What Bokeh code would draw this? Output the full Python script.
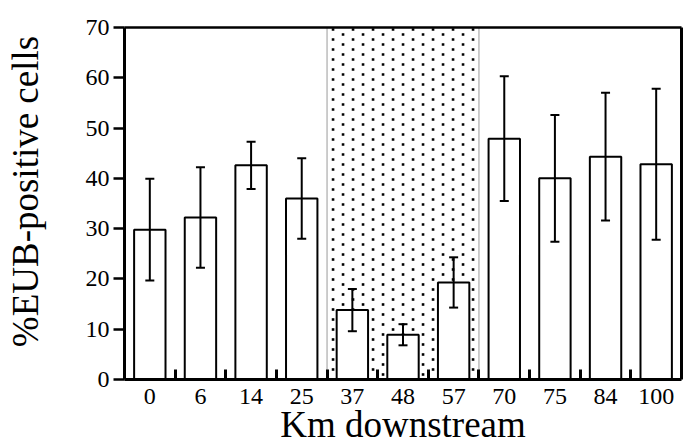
import numpy as np
from bokeh.plotting import figure
from bokeh.models import Range1d, FixedTicker, Whisker, TeeHead, ColumnDataSource
from bokeh.core.properties import value
from bokeh.embed import file_html
from bokeh.resources import INLINE

# Sampling sites (km downstream) and percentage of EUB-positive cells
km = ["0", "6", "14", "25", "37", "48", "57", "70", "75", "84", "100"]
pct = [29.8, 32.2, 42.6, 36.0, 13.8, 8.9, 19.3, 47.9, 40.0, 44.3, 42.8]
err = [10.1, 10.0, 4.7, 8.0, 4.2, 2.1, 5.0, 12.4, 12.6, 12.7, 15.0]
shaded_sites = ["37", "48", "57"]
y_ticks = [0, 10, 20, 30, 40, 50, 60, 70]
x_title = "Km downstream"
y_title = "%EUB-positive cells"

FONT = "Liberation Serif"
W, H = 684, 445
# margins around the bar area, in pixels
LEFT, RIGHT, TOP, BOTTOM = 124, 3, 27, 66
AREA_W = W - LEFT - RIGHT
AREA_H = H - TOP - BOTTOM
YMAX = y_ticks[-1]

n = len(km)
xc = [i + 0.5 for i in range(n)]
px_x = n / AREA_W      # data units per pixel, horizontally
px_y = YMAX / AREA_H   # data units per pixel, vertically

# the frame fills the canvas; axes sit at fixed data locations
p = figure(width=W, height=H, output_backend="svg", toolbar_location=None,
           x_range=Range1d(-LEFT * px_x, n + RIGHT * px_x),
           y_range=Range1d(-BOTTOM * px_y, YMAX + TOP * px_y),
           min_border=0)
p.grid.visible = False
p.outline_line_color = None
p.background_fill_color = "white"
p.border_fill_color = "white"

# dotted band behind the middle sites (staggered dot lattice)
i0 = km.index(shaded_sites[0])
i1 = km.index(shaded_sites[-1]) + 1
dot_dx, dot_dy = 10, 10
dx, dy = [], []
cols = int((i1 - i0) / px_x // dot_dx)
for c in range(cols):
    off = 0 if c % 2 == 0 else dot_dy / 2
    ys = np.arange(AREA_H - 2 - off, 0, -dot_dy)
    xs = i0 + (6 + c * dot_dx) * px_x
    for yy in ys:
        dx.append(xs)
        dy.append(yy * px_y)
p.scatter(dx, dy, marker="square", size=2.6, color="black", line_width=0)
p.segment(x0=[i0, i1], y0=[0, 0], x1=[i0, i1], y1=[YMAX, YMAX],
          line_color="#9a9a9a", line_width=1)

src = ColumnDataSource(dict(x=xc, top=pct,
                            lo=[v - e for v, e in zip(pct, err)],
                            hi=[v + e for v, e in zip(pct, err)]))
p.vbar(x="x", top="top", bottom=0, width=0.62, source=src,
       fill_color="white", line_color="black", line_width=2)
p.add_layout(Whisker(base="x", upper="hi", lower="lo", source=src, level="annotation",
                     line_color="black", line_width=2,
                     upper_head=TeeHead(size=9, line_width=2, line_color="black"),
                     lower_head=TeeHead(size=9, line_width=2, line_color="black")))

# top and right borders of the box
p.segment(x0=[0, n], y0=[YMAX, 0], x1=[n, n], y1=[YMAX, YMAX],
          line_color="black", line_width=[2.5, 3])

# axes
xa = p.xaxis[0]
xa.fixed_location = 0
xa.bounds = (0, n)
xa.ticker = FixedTicker(ticks=xc, minor_ticks=list(range(1, n)))
xa.major_label_overrides = {x: k for x, k in zip(xc, km)}
xa.major_tick_out = 0
xa.major_tick_in = 0
xa.major_tick_line_color = None
xa.minor_tick_in = 10
xa.minor_tick_out = 0
xa.minor_tick_line_width = 3
xa.minor_tick_line_color = "black"
xa.axis_line_width = 3
xa.major_label_standoff = 9

ya = p.yaxis[0]
ya.fixed_location = 0
ya.bounds = (0, YMAX)
ya.ticker = FixedTicker(ticks=y_ticks)
ya.major_tick_out = 11
ya.major_tick_in = 0
ya.major_tick_line_width = 2.5
ya.major_tick_line_color = "black"
ya.minor_tick_line_color = None
ya.axis_line_width = 3
ya.major_label_standoff = 4

for ax in (xa, ya):
    ax.major_label_text_font = FONT
    ax.major_label_text_font_size = "24px"
    ax.major_label_text_color = "black"
    ax.axis_line_color = "black"

# axis titles
p.text(x=[n / 2], y=[-45 * px_y], text=[x_title],
       text_font=value(FONT), text_font_size="37px", text_color="black",
       text_align="center", text_baseline="alphabetic")
p.text(x=[-99 * px_x], y=[188 * px_y], text=[y_title], angle=np.pi / 2,
       text_font=value(FONT), text_font_size="37px", text_color="black",
       text_align="center", text_baseline="alphabetic")

open("out.html", "w").write(file_html(p, INLINE))
